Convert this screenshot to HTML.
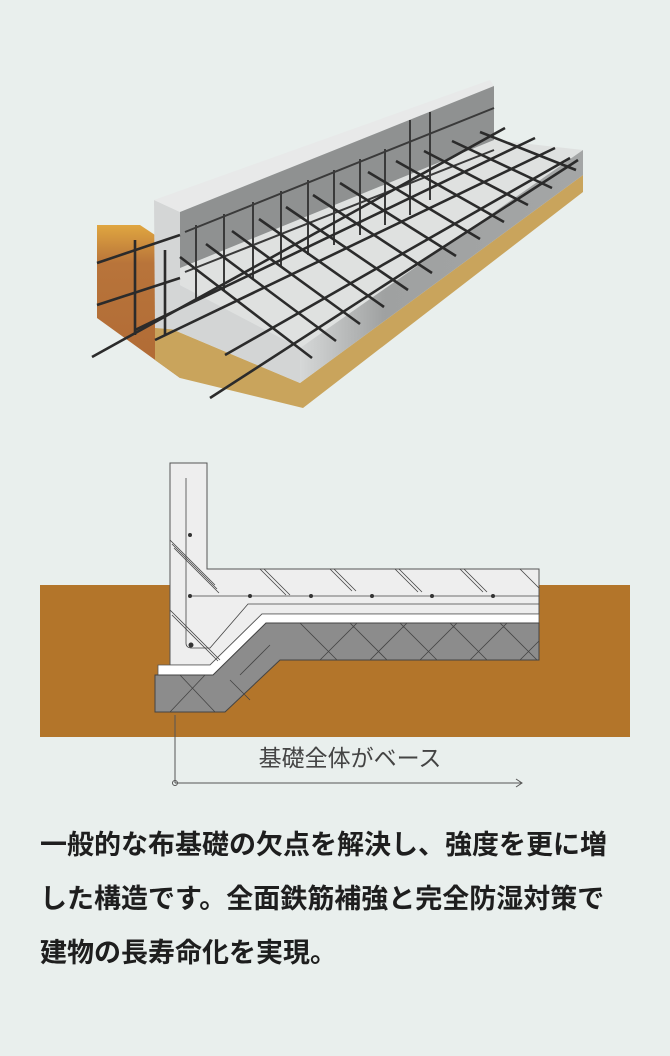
<!DOCTYPE html>
<html><head><meta charset="utf-8"><style>
html,body{margin:0;padding:0;background:#e9efed;}
body{width:670px;height:1056px;position:relative;overflow:hidden;}
svg{position:absolute;left:0;top:0;}
.t{position:absolute;left:40px;font-family:"Liberation Sans","Noto Sans CJK JP",sans-serif;font-weight:bold;font-size:27px;color:#1e1e1e;white-space:nowrap;line-height:30px;}
</style></head><body>
<svg width="670" height="1056" viewBox="0 0 670 1056">
<defs>
<linearGradient id="soil" x1="0" y1="0" x2="0" y2="1"><stop offset="0" stop-color="#e0a640"/><stop offset="0.25" stop-color="#b8743a"/><stop offset="1" stop-color="#b06a35"/></linearGradient>
<linearGradient id="front" x1="0" y1="0" x2="1" y2="0"><stop offset="0" stop-color="#d6d8d8"/><stop offset="0.3" stop-color="#9fa1a1"/><stop offset="1" stop-color="#a4a6a6"/></linearGradient>
</defs>
<!-- soil block -->
<polygon points="97,225 140,225 155,235 155,330 180,345 180,378 97,318" fill="url(#soil)"/>
<!-- gravel -->
<polygon points="155,322 300,383 583,175 583,192 303,408 180,378 155,360" fill="#c9a45c"/>
<!-- slab top -->
<polygon points="155,272 180,268 494,140 583,150 300,348" fill="#dfe1e0"/>
<!-- slab left face -->
<polygon points="155,272 300,348 300,383 155,322" fill="#d3d5d5"/>
<!-- slab front -->
<polygon points="300,348 583,150 583,175 300,383" fill="url(#front)"/>
<!-- wall end face -->
<polygon points="154,200 180,212 180,330 155,328" fill="#d4d6d6"/>
<!-- wall top -->
<polygon points="154,200 490,80 494,86 180,212" fill="#e8e9e9"/>
<!-- wall inner face -->
<polygon points="180,212 494,86 494,140 180,268" fill="#8f9191"/>
<!-- vertical wall bars -->
<g stroke="#3a3a3a" stroke-width="2">
<line x1="196" y1="225" x2="196" y2="300"/>
<line x1="224" y1="214" x2="224" y2="290"/>
<line x1="253" y1="202" x2="253" y2="278"/>
<line x1="281" y1="191" x2="281" y2="266"/>
<line x1="308" y1="180" x2="308" y2="255"/>
<line x1="334" y1="170" x2="334" y2="245"/>
<line x1="360" y1="159" x2="360" y2="235"/>
<line x1="385" y1="149" x2="385" y2="225"/>
<line x1="410" y1="120" x2="410" y2="215"/>
<line x1="430" y1="112" x2="430" y2="200"/>
<line x1="185" y1="232" x2="494" y2="108"/>
<line x1="185" y1="272" x2="494" y2="150"/>
</g>
<!-- slab rebar grid -->
<g stroke="#2b2b2b" stroke-width="2.6" fill="none">
<line x1="92" y1="357" x2="505" y2="128"/>
<line x1="135" y1="330" x2="535" y2="138"/>
<line x1="155" y1="340" x2="555" y2="148"/>
<line x1="210" y1="398" x2="578" y2="160"/>
<line x1="225" y1="355" x2="570" y2="158"/>
<line x1="312" y1="358" x2="180" y2="257"/>
<line x1="336" y1="341" x2="206" y2="244"/>
<line x1="360" y1="324" x2="232" y2="231"/>
<line x1="384" y1="307" x2="259" y2="219"/>
<line x1="408" y1="290" x2="286" y2="207"/>
<line x1="432" y1="273" x2="313" y2="195"/>
<line x1="456" y1="256" x2="340" y2="183"/>
<line x1="480" y1="239" x2="368" y2="172"/>
<line x1="504" y1="222" x2="396" y2="161"/>
<line x1="528" y1="205" x2="424" y2="151"/>
<line x1="552" y1="188" x2="452" y2="141"/>
<line x1="576" y1="170" x2="480" y2="132"/>
<line x1="97" y1="263" x2="180" y2="235"/>
<line x1="97" y1="305" x2="180" y2="278"/>
<line x1="135" y1="240" x2="135" y2="335"/>
<line x1="165" y1="250" x2="165" y2="335"/>
</g>
<!-- cross section -->
<rect x="40" y="585" width="590" height="152" fill="#b3752a"/>
<polygon points="170,463 207,463 207,569 539,569 539,614 262,614 210,665 170,665" fill="#eeeeee" stroke="#555" stroke-width="1"/>
<polygon points="262,614 539,614 539,623 266,623 213,675 158,675 158,665 210,665" fill="#ffffff" stroke="#555" stroke-width="0.8"/>
<polygon points="266,623 539,623 539,660 280,660 225,712 155,712 155,675 213,675" fill="#8c8c8c" stroke="#444" stroke-width="1"/>
<g stroke="#444" stroke-width="0.8" fill="none">
<path d="M300,623 L337,660 M350,623 L387,660 M400,623 L437,660 M450,623 L487,660 M500,623 L537,660 M320,660 L357,623 M370,660 L407,623 M420,660 L457,623 M470,660 L507,623 M520,660 L539,641 M180,675 L215,712 M230,680 L250,700 M170,712 L205,675 M240,675 L270,645"/>
<path d="M170,540 L215,585 M172,544 L217,589 M174,548 L219,593 M260,569 L286,595 M264,569 L290,595 M330,569 L352,591 M334,569 L356,591 M395,569 L418,592 M399,569 L422,592 M460,569 L483,592 M464,569 L487,592 M520,569 L539,588 M170,610 L220,660 M172,615 L218,661"/>
<path d="M186,478 L186,643 Q186,648 192,648 L210,648 L248,604 L539,604"/>
<path d="M192,596 L539,596"/>
</g>
<g fill="#333"><circle cx="190" cy="535" r="2"/><circle cx="190" cy="596" r="2"/><circle cx="250" cy="596" r="2"/><circle cx="311" cy="596" r="2"/><circle cx="372" cy="596" r="2"/><circle cx="432" cy="596" r="2"/><circle cx="493" cy="596" r="2"/><circle cx="191" cy="645" r="2.5"/></g>
<g stroke="#555" stroke-width="1" fill="none">
<line x1="175" y1="715" x2="175" y2="783"/><line x1="175" y1="783" x2="522" y2="783"/>
<path d="M516,779 L522,783 L516,787"/><circle cx="175" cy="783" r="2.5"/>
</g>
<text x="350" y="766" text-anchor="middle" font-family="Liberation Sans, Noto Sans CJK JP, sans-serif" font-size="23" fill="#444">基礎全体がベース</text>
</svg>
<div class="t" style="top:830px">一般的な布基礎の欠点を解決し、強度を更に増</div>
<div class="t" style="top:884px">した構造です。全面鉄筋補強と完全防湿対策で</div>
<div class="t" style="top:938px">建物の長寿命化を実現。</div>
</body></html>
